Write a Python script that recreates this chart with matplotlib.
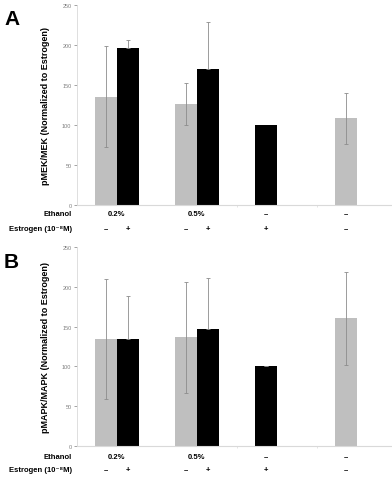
import numpy as np
from matplotlib import pyplot as plt
from matplotlib.transforms import blended_transform_factory

W, H = 392, 481
plt.rcParams["font.family"] = ["Liberation Sans", "DejaVu Sans"]

# four conditions; left slot / right slot bars
ethanol_labels = ["0.2%", "0.5%", "\u2013", "\u2013"]
estrogen_left = ["\u2013", "\u2013", "+", "\u2013"]
estrogen_right = ["+", "+", None, None]

left_colors = ["#bfbfbf", "#bfbfbf", "black", "#bfbfbf"]

# panel A: pMEK/MEK
mek_left = [135, 126, 100, 108]
mek_left_err = [63, 26.5, 0, 32]
mek_right = [196, 170, np.nan, np.nan]
mek_right_err = [10, 58, 0, 0]

# panel B: pMAPK/MAPK
mapk_left = [134.5, 136.5, 100, 160.5]
mapk_left_err = [76, 70, 1, 59]
mapk_right = [134.5, 146.5, np.nan, np.nan]
mapk_right_err = [54, 64.5, 0, 0]

BAR_W = 0.275
ERR_COLOR = "#8c8c8c"
FS = 5.5


def draw_panel(fig, top_px, zero_px, letter, ylabel, left, left_err, right, right_err,
               eth_y, est_y):
    ax = fig.add_axes([77 / W, 1 - zero_px / H, (W - 77) / W, (zero_px - top_px) / H])
    x = np.arange(len(left))
    xl = x - BAR_W / 2
    xr = x + BAR_W / 2

    ax.bar(xl, left, width=BAR_W, color=left_colors, zorder=2)
    ax.bar(xr, right, width=BAR_W, color="black", zorder=2)

    # grey bars show the full error bar, black bars only the upper half
    for i in range(len(left)):
        if left_colors[i] == "black":
            yerr = [[0], [left_err[i]]]
        else:
            yerr = [[left_err[i]], [left_err[i]]]
        if left_err[i] > 0:
            ax.errorbar(xl[i], left[i], yerr=yerr, fmt="none", ecolor=ERR_COLOR,
                        elinewidth=0.6, capsize=1.2, capthick=0.6, zorder=3)
        if not np.isnan(right[i]) and right_err[i] > 0:
            ax.errorbar(xr[i], right[i], yerr=[[0], [right_err[i]]], fmt="none",
                        ecolor=ERR_COLOR, elinewidth=0.6, capsize=1.2, capthick=0.6, zorder=3)

    ax.set_xlim((77 - 117) / 80, (W - 117) / 80)
    ax.set_ylim(0, 250)
    ax.set_yticks([0, 50, 100, 150, 200, 250])
    ax.tick_params(axis="y", labelsize=4, colors="#7f7f7f", length=2, width=0.5, pad=2)
    ax.set_xticks([1.5, 2.5])
    ax.set_xticklabels([])
    ax.tick_params(axis="x", length=1.5, width=0.5, colors="#d9d9d9")
    for s in ["top", "right"]:
        ax.spines[s].set_visible(False)
    ax.spines["left"].set_color("#d9d9d9")
    ax.spines["bottom"].set_color("#d9d9d9")
    ax.spines["left"].set_linewidth(0.6)
    ax.spines["bottom"].set_linewidth(0.8)

    ax.set_ylabel(ylabel, fontsize=6.5, fontweight="bold", labelpad=9)

    tr = blended_transform_factory(ax.transData, fig.transFigure)
    fig.text(72 / W, 1 - eth_y / H, "Ethanol", ha="right", va="center", fontsize=FS,
             fontweight="bold")
    fig.text(72 / W, 1 - est_y / H, "Estrogen (10\u207b\u2078M)", ha="right", va="center",
             fontsize=FS, fontweight="bold")
    for i in range(len(left)):
        ex = x[i] if i < 2 else xl[i]
        ax.text(ex, 1 - eth_y / H, ethanol_labels[i], transform=tr, ha="center",
                va="center", fontsize=FS, fontweight="bold")
        ax.text(xl[i], 1 - est_y / H, estrogen_left[i], transform=tr, ha="center",
                va="center", fontsize=FS, fontweight="bold")
        if estrogen_right[i]:
            ax.text(xr[i], 1 - est_y / H, estrogen_right[i], transform=tr, ha="center",
                    va="center", fontsize=FS, fontweight="bold")

    fig.text(4 / W, 1 - (top_px + 14) / H, letter, ha="left", va="center", fontsize=15,
             fontweight="bold")
    return ax


fig = plt.figure(figsize=(W / 100, H / 100), dpi=100)
draw_panel(fig, 5.7, 205.7, "A", "pMEK/MEK (Normalized to Estrogen)",
           mek_left, mek_left_err, mek_right, mek_right_err, 215, 230)
draw_panel(fig, 248.3, 446.7, "B", "pMAPK/MAPK (Normalized to Estrogen)",
           mapk_left, mapk_left_err, mapk_right, mapk_right_err, 457.5, 470.5)

fig.savefig("out.png", dpi=100)
